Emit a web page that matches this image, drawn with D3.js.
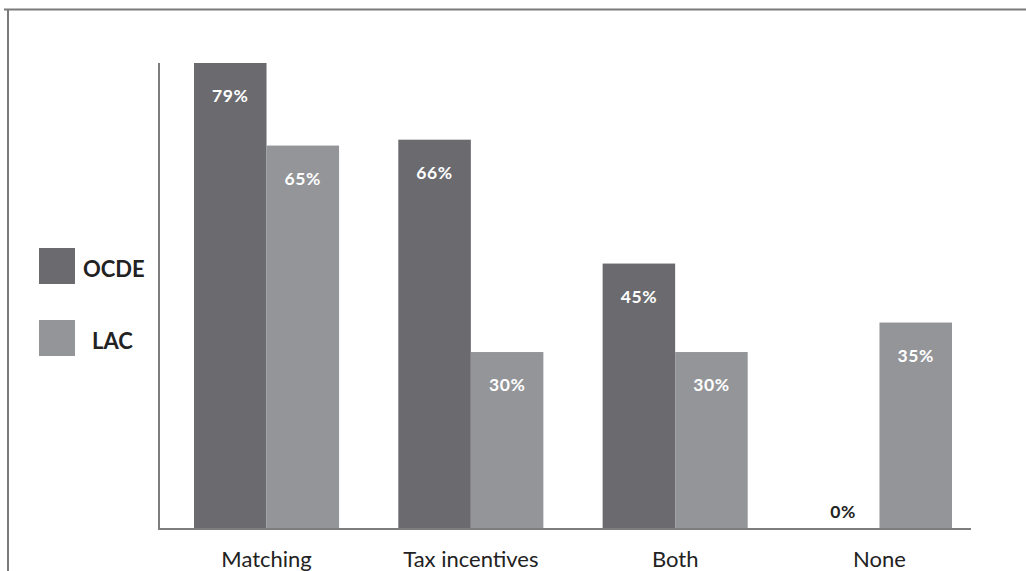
<!DOCTYPE html>
<html>
<head>
<meta charset="utf-8">
<script src="https://cdn.jsdelivr.net/npm/d3@7"></script>
<style>
  body { margin: 0; background: #fff; }
  svg { display: block; font-family: Lato, "Open Sans", sans-serif; }
</style>
</head>
<body>
<div id="chart"></div>
<script>
// grouped bars, OCDE vs LAC
const categories = ["Matching", "Tax incentives", "Both", "None"];
const seriesNames = ["OCDE", "LAC"];
const ocde = [79, 66, 45, 0];
const lac = [65, 30, 30, 35];

const width = 1026, height = 571;
const colors = { OCDE: "#6b6b6f", LAC: "#949598" };

const svg = d3.select("#chart").append("svg")
    .attr("width", width)
    .attr("height", height);

// outer frame (top + left edges only visible)
svg.append("path")
    .attr("d", "M4,9.5H1026M8,9.5V571")
    .attr("fill", "none")
    .attr("stroke", "#7a7a7a")
    .attr("stroke-width", 2);

const x = d3.scaleBand()
    .domain(categories)
    .range([194, 952])
    .paddingInner(0.29)
    .paddingOuter(0);

const xs = d3.scaleBand()
    .domain(seriesNames)
    .range([0, x.bandwidth()]);

const y = d3.scaleLinear()
    .domain([0, 79])
    .range([529, 63]);

const rows = categories.map((c, i) => ({ cat: c, values: [
    { key: "OCDE", v: ocde[i] },
    { key: "LAC", v: lac[i] }
]}));

const groups = svg.append("g").selectAll("g")
    .data(rows)
    .join("g")
    .attr("transform", d => `translate(${x(d.cat)},0)`);

groups.selectAll("rect")
    .data(d => d.values.filter(e => e.v > 0))
    .join("rect")
    .attr("x", d => xs(d.key))
    .attr("y", d => y(d.v))
    .attr("width", xs.bandwidth())
    .attr("height", d => y(0) - y(d.v))
    .attr("fill", d => colors[d.key]);

groups.selectAll("text")
    .data(d => d.values)
    .join("text")
    .attr("x", d => xs(d.key) + xs.bandwidth() / 2)
    .attr("y", d => d.v > 0 ? y(d.v) + 39 : y(0) - 11)
    .attr("text-anchor", "middle")
    .attr("font-size", 17.5)
    .attr("font-weight", "bold")
    .attr("letter-spacing", 0.6)
    .attr("fill", d => d.v > 0 ? "#fff" : "#222")
    .text(d => d.v + "%");

// axes lines
svg.append("path")
    .attr("d", `M159,${y(79)}V${y(0)}H971`)
    .attr("fill", "none")
    .attr("stroke", "#7d7d7d")
    .attr("stroke-width", 2);

// category labels
const xAxis = svg.append("g")
    .attr("transform", `translate(0,${y(0)})`)
    .call(d3.axisBottom(x).tickSize(0).tickPadding(0));
xAxis.select(".domain").remove();
xAxis.selectAll("text")
    .attr("y", 38)
    .attr("dy", 0)
    .attr("font-family", "Lato, 'Open Sans', sans-serif")
    .attr("font-size", 22)
    .attr("fill", "#222");

// legend
const legend = svg.append("g").selectAll("g")
    .data(seriesNames)
    .join("g")
    .attr("transform", (d, i) => `translate(39,${248 + i * 72})`);

legend.append("rect")
    .attr("width", 36)
    .attr("height", 36)
    .attr("fill", d => colors[d]);

legend.append("text")
    .attr("x", (d, i) => i === 0 ? 44 : 53)
    .attr("y", 29)
    .attr("font-size", 22)
    .attr("font-weight", "bold")
    .attr("fill", "#222")
    .text(d => d);
</script>
</body>
</html>
